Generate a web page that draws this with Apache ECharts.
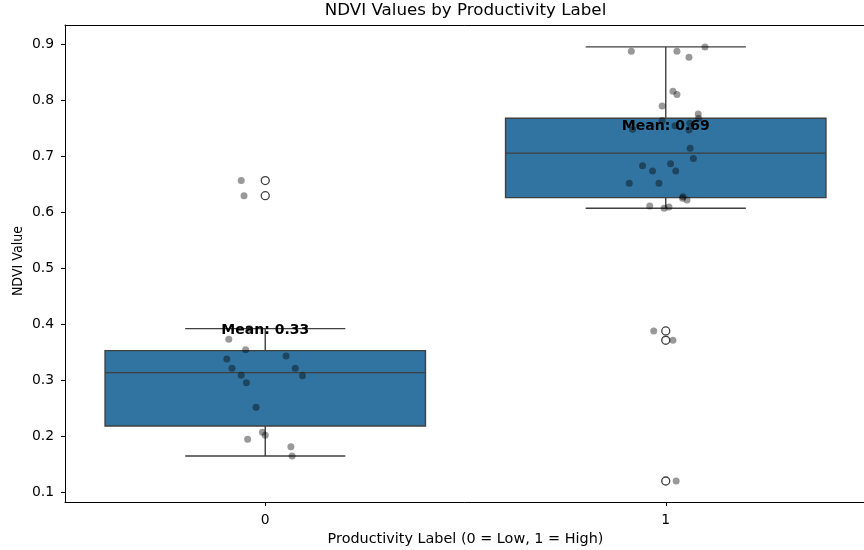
<!DOCTYPE html>
<html>
<head>
<meta charset="utf-8">
<script src="https://cdn.jsdelivr.net/npm/echarts@6/dist/echarts.min.js"></script>
<style>
  html, body { margin: 0; padding: 0; background: #ffffff; }
  #chart { width: 864px; height: 550px; }
</style>
</head>
<body>
<div id="chart"></div>
<script>
// Productivity classes on the x axis
const categories = ['0', '1'];
// y-axis tick values
const yTicks = [0.1, 0.2, 0.3, 0.4, 0.5, 0.6, 0.7, 0.8, 0.9];

// Box summaries per class: whisker ends, quartiles, median
const whiskerLow  = [0.1649, 0.6076];
const quart1      = [0.2185, 0.6265];
const medians     = [0.3138, 0.7060];
const quart3      = [0.3531, 0.7685];
const whiskerHigh = [0.3925, 0.8959];
// Mean NDVI per class
const means = [0.329, 0.694];

// Points beyond the whiskers
const outliersLow  = [0.657, 0.630];
const outliersHigh = [0.3883, 0.3717, 0.1202];

// Individual NDVI observations and their horizontal jitter (in category units)
const ndviLow = [0.3925, 0.3735, 0.3549, 0.3383, 0.3436, 0.3216, 0.3216, 0.3091, 0.3084,
                 0.2959, 0.2519, 0.2072, 0.2018, 0.1947, 0.1815, 0.1649, 0.657, 0.630];
const jitterLow = [-0.040, -0.091, -0.049, -0.096, 0.052, -0.083, 0.075, -0.060, 0.093,
                   -0.047, -0.023, -0.007, 0.000, -0.044, 0.064, 0.067, -0.060, -0.053];
const ndviHigh = [0.8882, 0.8882, 0.8775, 0.8959, 0.8167, 0.8106, 0.7904, 0.7761, 0.7685,
                  0.7642, 0.7552, 0.7488, 0.7595, 0.7475, 0.7148, 0.6963, 0.6837, 0.6873,
                  0.6743, 0.6743, 0.6523, 0.6523, 0.6283, 0.6224, 0.6255, 0.6117, 0.6076,
                  0.6099, 0.3883, 0.3717, 0.1202];
const jitterHigh = [-0.086, 0.028, 0.058, 0.098, 0.018, 0.028, -0.009, 0.081, 0.082,
                    -0.009, 0.023, -0.083, 0.060, 0.058, 0.061, 0.069, -0.058, 0.012,
                    -0.033, 0.025, -0.091, -0.017, 0.043, 0.053, 0.042, -0.040, -0.004,
                    0.008, -0.030, 0.018, 0.026];

const BOX_FILL = '#3274a1';
const LINE = '#3f3f3f';
const FONT = '"DejaVu Sans", sans-serif';

const boxData = categories.map((c, i) =>
  [i, whiskerLow[i], quart1[i], medians[i], quart3[i], whiskerHigh[i]]);

const stripData = [];
ndviLow.forEach((v, k) => stripData.push([0 + jitterLow[k], v]));
ndviHigh.forEach((v, k) => stripData.push([1 + jitterHigh[k], v]));

const outlierData = [];
outliersLow.forEach(v => outlierData.push([0, v]));
outliersHigh.forEach(v => outlierData.push([1, v]));

const meanData = means.map((m, i) => [i, m]);

function renderBox(params, api) {
  const c = api.value(0);
  const band = api.size([1, 0])[0];
  const px = v => api.coord([c, v]);
  const xc = px(api.value(3))[0];
  const yLo = px(api.value(1))[1];
  const yQ1 = px(api.value(2))[1];
  const yMed = px(api.value(3))[1];
  const yQ3 = px(api.value(4))[1];
  const yHi = px(api.value(5))[1];
  const halfBox = band * 0.4;
  const halfCap = band * 0.2;
  const lineStyle = { stroke: LINE, lineWidth: 1.4, fill: null };
  return {
    type: 'group',
    children: [
      { type: 'line', shape: { x1: xc, y1: yQ3, x2: xc, y2: yHi }, style: lineStyle },
      { type: 'line', shape: { x1: xc, y1: yQ1, x2: xc, y2: yLo }, style: lineStyle },
      { type: 'line', shape: { x1: xc - halfCap, y1: yHi, x2: xc + halfCap, y2: yHi }, style: lineStyle },
      { type: 'line', shape: { x1: xc - halfCap, y1: yLo, x2: xc + halfCap, y2: yLo }, style: lineStyle },
      { type: 'rect', shape: { x: xc - halfBox, y: yQ3, width: halfBox * 2, height: yQ1 - yQ3 },
        style: { fill: BOX_FILL, stroke: LINE, lineWidth: 1.4 } },
      { type: 'line', shape: { x1: xc - halfBox, y1: yMed, x2: xc + halfBox, y2: yMed }, style: lineStyle }
    ]
  };
}

function renderMean(params, api) {
  const p = api.coord([api.value(0), api.value(1)]);
  return {
    type: 'text',
    x: p[0],
    y: p[1] - 34,
    style: {
      text: 'Mean: ' + api.value(1).toFixed(2),
      fill: '#000',
      font: 'bold 14px ' + FONT,
      align: 'center',
      verticalAlign: 'middle'
    }
  };
}

const chart = echarts.init(document.getElementById('chart'), null, { renderer: 'canvas' });

chart.setOption({
  animation: false,
  backgroundColor: '#ffffff',
  grid: { left: 65, top: 25, width: 801, bottom: 48, outerBoundsMode: 'none', show: false },
  graphic: [
    { type: 'text', x: 465.5, y: 11,
      style: { text: 'NDVI Values by Productivity Label', fill: '#000', font: '16.7px ' + FONT, align: 'center', verticalAlign: 'middle' } },
    { type: 'text', x: 465.5, y: 539,
      style: { text: 'Productivity Label (0 = Low, 1 = High)', fill: '#000', font: '14.4px ' + FONT, align: 'center', verticalAlign: 'middle' } },
    { type: 'text', x: 18, y: 261, rotation: Math.PI / 2, scaleX: 0.88,
      style: { text: 'NDVI Value', fill: '#000', font: '14.4px ' + FONT, align: 'center', verticalAlign: 'middle' } }
  ],
  xAxis: [
    {
      type: 'category',
      data: categories,
      axisLine: { show: true, onZero: false, lineStyle: { color: '#000', width: 1 } },
      axisTick: { show: true, alignWithLabel: true, length: 4, lineStyle: { color: '#000' } },
      axisLabel: { color: '#000', fontFamily: FONT, fontSize: 13.9, margin: 11 },
      splitLine: { show: false }
    },
    { type: 'value', min: -0.5, max: 1.5, show: false },
    {
      // top frame line of the plot area
      type: 'category',
      data: categories,
      position: 'top',
      axisLine: { show: true, onZero: false, lineStyle: { color: '#000', width: 1 } },
      axisTick: { show: false },
      axisLabel: { show: false },
      splitLine: { show: false }
    }
  ],
  yAxis: {
    type: 'value',
    min: 0.0827,
    max: 0.935,
    axisLine: { show: true, onZero: false, lineStyle: { color: '#000', width: 1 } },
    axisTick: { show: true, length: 4, lineStyle: { color: '#000' }, customValues: yTicks },
    axisLabel: { color: '#000', fontFamily: FONT, fontSize: 13.9, margin: 11,
                 customValues: yTicks, formatter: v => v.toFixed(1) },
    splitLine: { show: false }
  },
  series: [
    { type: 'custom', name: 'box', xAxisIndex: 0, yAxisIndex: 0, data: boxData,
      encode: { x: 0, y: [1, 2, 3, 4, 5] }, renderItem: renderBox, z: 1 },
    { type: 'scatter', name: 'outliers', xAxisIndex: 1, data: outlierData, symbol: 'circle', symbolSize: 8,
      itemStyle: { color: '#ffffff', borderColor: LINE, borderWidth: 1.3, opacity: 1 }, z: 2 },
    { type: 'scatter', name: 'observations', xAxisIndex: 1, data: stripData, symbol: 'circle', symbolSize: 7,
      itemStyle: { color: 'rgba(0,0,0,0.5)', borderWidth: 0 }, z: 3 },
    { type: 'custom', name: 'means', xAxisIndex: 1, data: meanData, encode: { x: 0, y: 1 },
      renderItem: renderMean, z: 4 }
  ]
});
</script>
</body>
</html>
